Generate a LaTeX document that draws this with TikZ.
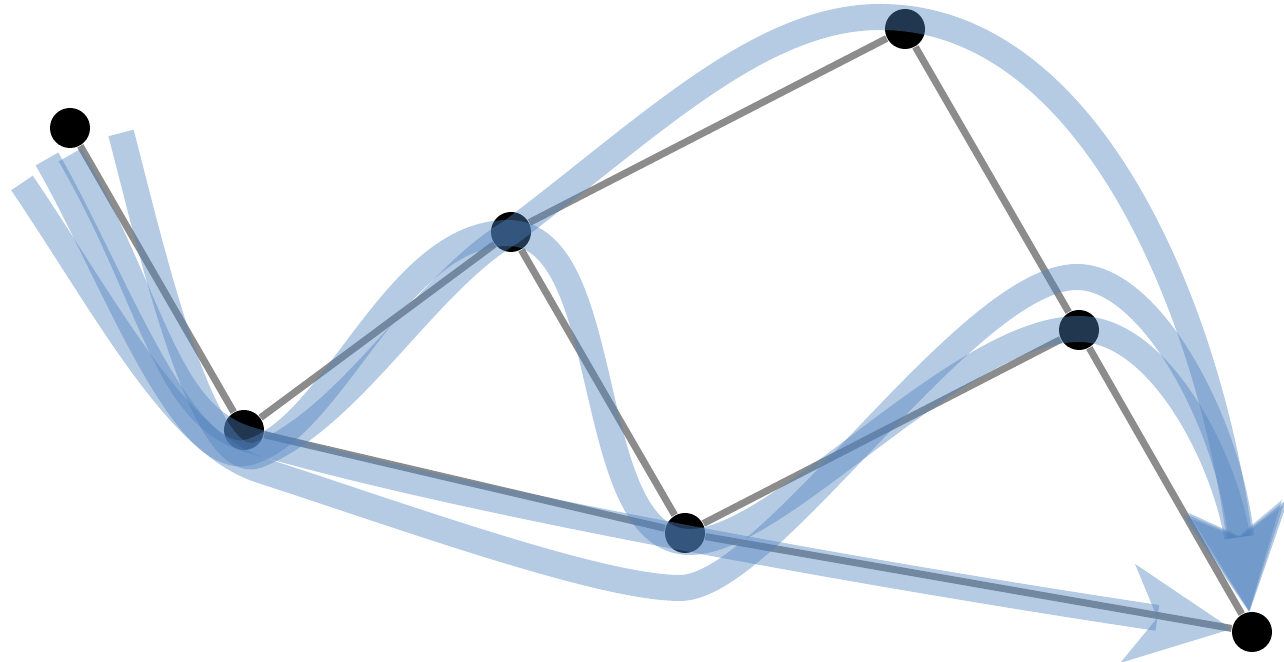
\documentclass[tikz,border=0pt]{standalone}
\usepackage{xcolor}
\usepackage{tikz}
\usetikzlibrary{arrows.meta}

\definecolor{routeblue}{RGB}{79,129,189}

\begin{document}
\begin{tikzpicture}[
    vertex/.style={circle, fill=black, inner sep=0pt, minimum size=0.4cm},
    edge/.style={draw=black!45, line width=0.07cm},
    route/.style={draw=routeblue, opacity=0.42, line width=0.26cm,
                  -{Stealth[length=1.05cm, width=1cm, inset=0.3cm, line width=0pt]}},
  ]
    \useasboundingbox (0,0) rectangle (12.84,6.62);

    % Vertices
    \node[vertex] (a) at (0.70,5.34) {};
    \node[vertex] (b) at (2.44,2.32) {};
    \node[vertex] (c) at (5.11,4.30) {};
    \node[vertex] (d) at (9.05,6.33) {};
    \node[vertex] (e) at (6.85,1.29) {};
    \node[vertex] (f) at (10.79,3.32) {};
    \node[vertex] (g) at (12.52,0.30) {};

    % Edges
    \draw[edge] (a) -- (b);
    \draw[edge] (b) -- (c);
    \draw[edge] (c) -- (d);
    \draw[edge] (d) -- (f);
    \draw[edge] (f) -- (g);
    \draw[edge] (c) -- (e);
    \draw[edge] (e) -- (f);
    \draw[edge] (b) -- (e);
    \draw[edge] (e) -- (g);

    % Route starts
    \coordinate (r1) at (0.70,5.07);
    \coordinate (r2) at (1.21,5.29);
    \coordinate (r3) at (0.47,5.03);
    \coordinate (r4) at (0.22,4.79);

    % Direct route
    \draw[route] (r1) .. controls (1.55,3.60) and (1.64,2.47) .. (2.50,2.22)
      .. controls (4.92,1.52) and (9.37,0.77) .. (g);

    % Route over the top
    \draw[route] (r2) .. controls (1.49,4.23) and (2.02,1.85) .. (2.58,2.07)
      .. controls (3.51,2.44) and (4.25,3.79) .. (c.center)
      .. controls (6.50,5.35) and (7.60,6.45) .. (8.80,6.45)
      .. controls (10.90,6.45) and (12.09,3.52) .. (g);

    % Zig-zag route
    \draw[route] (r3) .. controls (1.12,3.90) and (1.83,1.90) .. (2.50,2.10)
      .. controls (3.36,2.36) and (3.95,4.29) .. (5.08,4.29)
      .. controls (6.18,4.29) and (5.80,1.20) .. (6.90,1.20)
      .. controls (7.80,1.20) and (9.59,3.33) .. (10.79,3.33)
      .. controls (11.60,3.33) and (12.25,2.02) .. (g);

    % Low route
    \draw[route] (r4) .. controls (1.06,3.55) and (1.75,2.20) .. (2.60,1.92)
      .. controls (4.02,1.46) and (6.00,0.74) .. (6.80,0.74)
      .. controls (7.70,0.74) and (9.67,3.85) .. (10.77,3.85)
      .. controls (11.50,3.85) and (12.28,2.42) .. (g);
\end{tikzpicture}
\end{document}
